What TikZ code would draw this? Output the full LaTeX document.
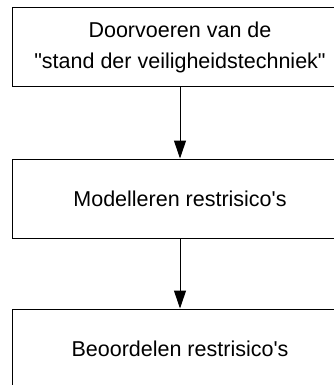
\documentclass[tikz,border=0pt]{standalone}
\usepackage{fontspec}
\setmainfont{Liberation Sans}
\usetikzlibrary{arrows.meta,positioning}

\begin{document}
\begin{tikzpicture}[x=1pt,y=-1pt,>={Triangle[length=18pt,width=12pt]},
    stapbox/.style={draw,line width=1pt,minimum width=336pt,minimum height=79pt,
      align=center,inner sep=0pt,font=\fontsize{21.5}{31}\selectfont}]
            \useasboundingbox (0,0) rectangle (334,385);
            \clip (0,0) rectangle (334,385);
            % draw the boxes
            \node[stapbox] (doorvoeren) at (180,47.5)
                  {Doorvoeren van de\\\textquotedbl stand der veiligheidstechniek\textquotedbl};
            \node[stapbox] (modelleren) at (180,198.5)
                  {Modelleren restrisico\textquotesingle s};
            \node[stapbox] (beoordelen) at (180,348.5)
                  {Beoordelen restrisico\textquotesingle s};
            % draw arrows
            \draw[->,line width=1pt] (doorvoeren) -- (modelleren);
            \draw[->,line width=1pt] (modelleren) -- (beoordelen);
          \end{tikzpicture}
\end{document}
